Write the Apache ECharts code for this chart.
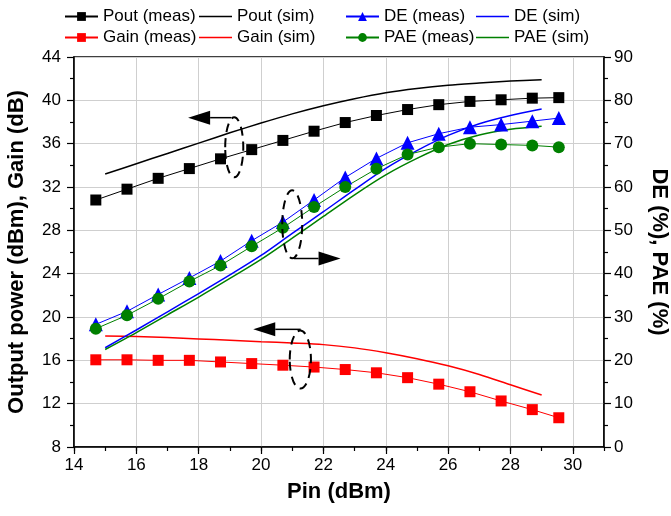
<!DOCTYPE html>
<html>
<head>
<meta charset="utf-8">
<script src="https://cdn.jsdelivr.net/npm/echarts@6/dist/echarts.min.js"></script>
<style>html,body{margin:0;padding:0;background:#fff}#c{width:671px;height:516px}</style>
</head>
<body>
<div id="c"></div>
<script>
// ---- data ----
const pinMeas = [14.7, 15.7, 16.7, 17.7, 18.7, 19.7, 20.7, 21.7, 22.7, 23.7, 24.7, 25.7, 26.7, 27.7, 28.7, 29.55];
const pinSim = [15, 16, 17, 18, 19, 20, 21, 22, 23, 24, 25, 26, 27, 28, 29];
const poutMeas = [30.8, 31.8, 32.8, 33.7, 34.6, 35.45, 36.3, 37.15, 37.95, 38.6, 39.15, 39.6, 39.9, 40.05, 40.2, 40.25];
const poutSim = [33.2, 34.15, 35.1, 36.05, 37.0, 37.9, 38.75, 39.5, 40.15, 40.7, 41.1, 41.4, 41.6, 41.78, 41.9];
const gainMeas = [16.05, 16.05, 16.0, 16.0, 15.85, 15.7, 15.55, 15.38, 15.15, 14.85, 14.4, 13.8, 13.1, 12.25, 11.45, 10.7];
const gainSim = [18.25, 18.2, 18.1, 17.98, 17.85, 17.72, 17.6, 17.45, 17.15, 16.7, 16.15, 15.5, 14.7, 13.75, 12.8];
const deMeas = [28.3, 31.3, 35.2, 39.0, 42.9, 47.6, 51.9, 57.0, 62.2, 66.6, 70.2, 72.3, 73.8, 74.4, 75.2, 75.9];
const deSim = [22.9, 27.0, 31.2, 35.4, 39.7, 44.2, 49.3, 54.3, 59.4, 64.3, 68.4, 71.9, 74.6, 76.5, 78.0];
const paeMeas = [27.3, 30.4, 34.2, 38.2, 41.9, 46.3, 50.6, 55.4, 60.0, 64.2, 67.5, 69.2, 70.0, 69.8, 69.6, 69.2];
const paeSim = [22.5, 26.4, 30.5, 34.6, 38.9, 43.3, 48.2, 53.2, 58.2, 62.8, 66.6, 69.8, 72.0, 73.3, 74.0];
const legendNames = ['Pout (meas)', 'Pout (sim)', 'DE (meas)', 'DE (sim)', 'Gain (meas)', 'Gain (sim)', 'PAE (meas)', 'PAE (sim)'];

// annotations, in data coordinates: ellipse [cx, cy, halfX, halfY]; arrow [x0, y0, tipX, tipY]
const ellipsesLeft = [[19.14, 35.66, 0.29, 2.77], [21.26, 16.07, 0.34, 2.68]];
const ellipsesRight = [[21.0, 51.4, 0.32, 7.85]];
const arrowsLeft = [[19.05, 38.4, 17.66, 38.4], [21.27, 18.86, 19.75, 18.86]];
const arrowsRight = [[21.05, 43.5, 22.55, 43.5]];

const zip = (xs, ys) => xs.map((x, i) => [x, ys[i]]);
const FONT = 'Liberation Sans, Arial, sans-serif';

const chart = echarts.init(document.getElementById('c'), null, {renderer: 'canvas'});

function meas(name, xs, ys, color, symbol, size, yIdx) {
  return {name, type: 'line', xAxisIndex: 0, yAxisIndex: yIdx, data: zip(xs, ys),
    symbol, symbolSize: size, showSymbol: true,
    itemStyle: {color}, lineStyle: {color, width: 1}, emphasis: {disabled: true}, z: 3};
}
function sim(name, xs, ys, color, yIdx) {
  return {name, type: 'line', xAxisIndex: 0, yAxisIndex: yIdx, data: zip(xs, ys),
    symbol: 'none', smooth: 0.3, itemStyle: {color}, lineStyle: {color, width: 1.5},
    emphasis: {disabled: true}, z: 2};
}
function ellipseSeries(list, yIdx) {
  return {type: 'custom', xAxisIndex: 0, yAxisIndex: yIdx, silent: true, z: 5, data: list,
    renderItem: function (params, api) {
      const c = api.coord([api.value(0), api.value(1)]);
      const s = api.size([api.value(2), api.value(3)]);
      return {type: 'ellipse', shape: {cx: c[0], cy: c[1], rx: s[0], ry: s[1]},
        style: {fill: null, stroke: '#000', lineWidth: 2, lineDash: [9, 6]}};
    }};
}
function arrowSeries(list, yIdx) {
  return {type: 'custom', xAxisIndex: 0, yAxisIndex: yIdx, silent: true, z: 5, data: list,
    renderItem: function (params, api) {
      const p0 = api.coord([api.value(0), api.value(1)]);
      const p1 = api.coord([api.value(2), api.value(3)]);
      const dx = p1[0] - p0[0], dy = p1[1] - p0[1];
      const L = Math.sqrt(dx * dx + dy * dy) || 1;
      const ux = dx / L, uy = dy / L;
      const headLen = 22, halfW = 7;
      const bx = p1[0] - ux * headLen, by = p1[1] - uy * headLen;
      return {type: 'group', children: [
        {type: 'line', shape: {x1: p0[0], y1: p0[1], x2: bx, y2: by}, style: {stroke: '#000', lineWidth: 1.5}},
        {type: 'polygon', shape: {points: [[p1[0], p1[1]], [bx - uy * halfW, by + ux * halfW], [bx + uy * halfW, by - ux * halfW]]},
          style: {fill: '#000'}}
      ]};
    }};
}

const colLeft = [64, 199, 345, 476];
const rowTop = [8, 29];
const legends = legendNames.map((n, i) => {
  const isSim = n.indexOf('sim') >= 0;
  return {
    data: [isSim ? {name: n, icon: 'rect'} : n],
    left: colLeft[i % 4], top: rowTop[Math.floor(i / 4)],
    itemWidth: 33, itemHeight: isSim ? 1.6 : 11,
    itemGap: 0, padding: 0, selectedMode: false,
    textStyle: {fontFamily: FONT, fontSize: 17, color: '#000'}
  };
});

const axisLbl = {fontFamily: FONT, fontSize: 17, color: '#000'};
const nameStyle = {fontFamily: FONT, fontSize: 22, fontWeight: 'bold', color: '#000'};

chart.setOption({
  animation: false,
  backgroundColor: '#fff',
  grid: {left: 74, right: 67, top: 57, bottom: 69, outerBoundsMode: 'none', containLabel: false,
    show: true, borderColor: '#000', borderWidth: 1.5, backgroundColor: 'transparent'},
  legend: legends,
  xAxis: [
    {type: 'value', min: 14, max: 31, interval: 2, name: 'Pin (dBm)', nameLocation: 'middle', nameGap: 34,
      nameTextStyle: nameStyle,
      axisLine: {show: true, lineStyle: {color: '#000', width: 1.5}},
      axisTick: {show: true, length: 7, lineStyle: {color: '#000', width: 1.2}},
      axisLabel: {...axisLbl, margin: 10, showMaxLabel: false, formatter: v => (v % 2 === 0 ? String(v) : '')},
      splitLine: {show: true, lineStyle: {color: '#cfcfcf', width: 1}}},
    {type: 'value', min: 14, max: 31, interval: 1, position: 'bottom',
      axisLine: {show: false}, axisTick: {show: true, length: 4, lineStyle: {color: '#000', width: 1.2}},
      axisLabel: {show: false}, splitLine: {show: false}}
  ],
  yAxis: [
    {type: 'value', min: 8, max: 44, interval: 4, name: 'Output power (dBm), Gain (dB)', nameLocation: 'middle', nameGap: 46,
      nameTextStyle: nameStyle,
      axisLine: {show: true, lineStyle: {color: '#000', width: 1.5}},
      axisTick: {show: true, length: 7, lineStyle: {color: '#000', width: 1.2}},
      minorTick: {show: true, splitNumber: 2, length: 4, lineStyle: {color: '#000', width: 1.2}},
      axisLabel: {...axisLbl, margin: 13},
      splitLine: {show: true, lineStyle: {color: '#cfcfcf', width: 1}}},
    {type: 'value', min: 0, max: 90, interval: 10, position: 'right', name: 'DE (%), PAE (%)', nameLocation: 'middle', nameGap: 44,
      nameRotate: -90, nameTextStyle: nameStyle,
      axisLine: {show: true, lineStyle: {color: '#000', width: 1.5}},
      axisTick: {show: true, length: 7, lineStyle: {color: '#000', width: 1.2}},
      minorTick: {show: true, splitNumber: 2, length: 4, lineStyle: {color: '#000', width: 1.2}},
      axisLabel: {...axisLbl, margin: 10},
      splitLine: {show: false}}
  ],
  series: [
    sim('Pout (sim)', pinSim, poutSim, '#000000', 0),
    sim('Gain (sim)', pinSim, gainSim, '#ff0000', 0),
    sim('DE (sim)', pinSim, deSim, '#0000ff', 1),
    sim('PAE (sim)', pinSim, paeSim, '#008000', 1),
    meas('Pout (meas)', pinMeas, poutMeas, '#000000', 'rect', 11, 0),
    meas('Gain (meas)', pinMeas, gainMeas, '#ff0000', 'rect', 11, 0),
    meas('DE (meas)', pinMeas, deMeas, '#0000ff', 'triangle', 14, 1),
    meas('PAE (meas)', pinMeas, paeMeas, '#008000', 'circle', 12, 1),
    ellipseSeries(ellipsesLeft, 0),
    ellipseSeries(ellipsesRight, 1),
    arrowSeries(arrowsLeft, 0),
    arrowSeries(arrowsRight, 1)
  ]
});
</script>
</body>
</html>
